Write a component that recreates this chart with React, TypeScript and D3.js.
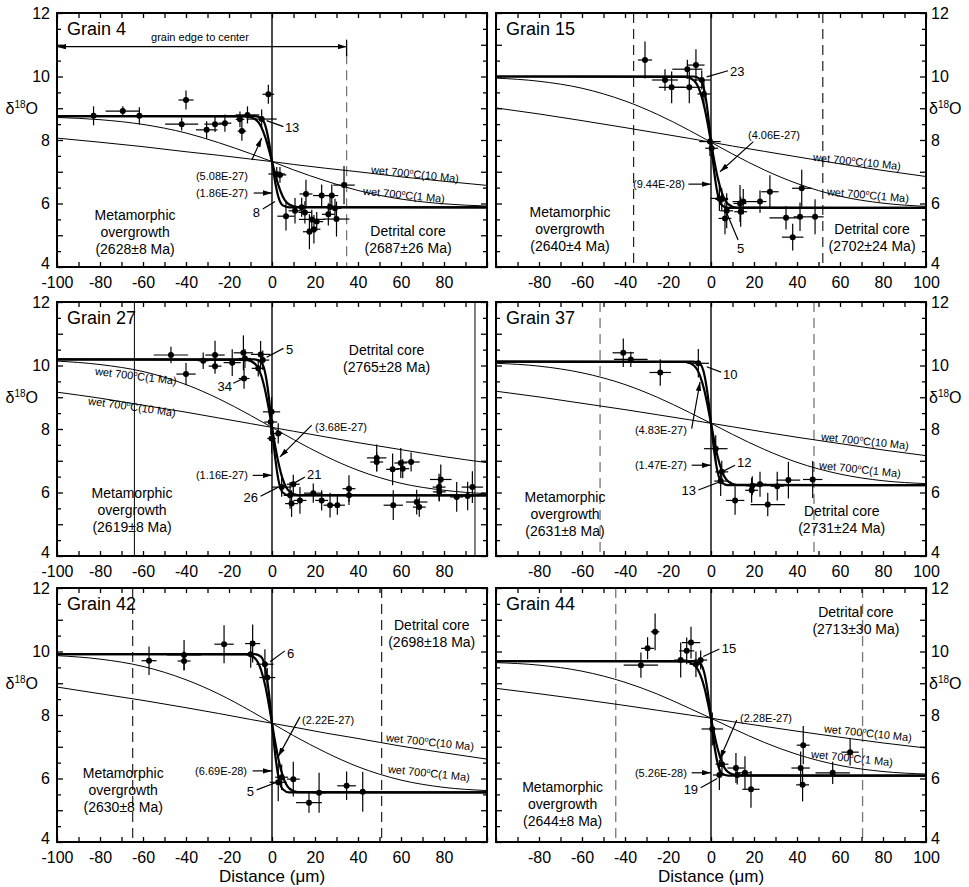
import React, { useEffect, useRef } from 'react';
import * as d3 from 'd3';

const width = 969;
const height = 887;
const font = '"Liberation Sans", Arial, Helvetica, sans-serif';

const cols = [
  { left: 57, right: 487 },
  { left: 496, right: 926 },
];
const rows = [
  { top: 13, bottom: 267 },
  { top: 302, bottom: 556 },
  { top: 588, bottom: 842 },
];

const fitX = [-100, -12, -8, -5, -3, -1.5, 0, 1.5, 3, 5, 8, 12, 100];
const wetX = [-100, -80, -60, -40, -25, -10, 0, 10, 25, 40, 60, 80, 100];

// spot analyses: [distance, d18O, +-distance, +-d18O]
const grain4Points = [
  [-83, 8.76, 1.5, 0.3], [-69.4, 8.91, 8, 0.15], [-61.7, 8.76, 1.5, 0.27], [-42, 8.5, 7.7, 0.2],
  [-40, 9.26, 3.5, 0.3], [-30.4, 8.32, 5, 0.27], [-26.5, 8.5, 5, 0.25], [-21.9, 8.53, 3, 0.27],
  [-14.9, 8.65, 2, 0.25], [-14, 8.28, 2, 0.3], [-11.4, 8.79, 5.5, 0.27], [-4.8, 8.66, 7, 0.3],
  [-1.7, 9.44, 2.7, 0.3], [2.2, 6.93, 3.9, 0.22], [3.7, 6.9, 3, 0.25], [6.5, 5.6, 4, 0.45],
  [10.7, 5.77, 3, 0.4], [13.8, 5.88, 4, 0.3], [15.3, 5.72, 3, 0.35], [15.8, 6.3, 3, 0.45],
  [17.4, 5.11, 3, 0.55], [18.5, 5.5, 6, 0.3], [19.5, 5.19, 3, 0.45], [20.8, 5.43, 3, 0.3],
  [23.1, 6.25, 4, 0.35], [26.2, 5.66, 3, 0.35], [27, 5.89, 3, 0.3], [27.8, 6.25, 3, 0.35],
  [29.3, 5.85, 3, 0.3], [30, 5.51, 6, 0.55], [33.5, 6.58, 5, 0.6],
];
const grain4FitA = [8.75, 8.74, 8.66, 8.41, 8.06, 7.71, 7.32, 6.92, 6.57, 6.22, 5.97, 5.89, 5.88];
const grain4FitB = [8.75, 8.75, 8.75, 8.69, 8.43, 7.97, 7.32, 6.66, 6.2, 5.94, 5.88, 5.88, 5.88];
const grain4Wet1 = [8.71, 8.64, 8.49, 8.22, 7.92, 7.57, 7.32, 7.06, 6.71, 6.41, 6.14, 5.99, 5.92];
const grain4Wet10 = [8.06, 7.93, 7.79, 7.63, 7.52, 7.4, 7.32, 7.23, 7.11, 7.0, 6.84, 6.7, 6.57];

const grain15Points = [
  [-30.7, 10.52, 3.3, 0.58], [-21.4, 9.89, 6, 0.34], [-18.3, 9.66, 6, 0.5], [-11, 10.23, 7, 0.3],
  [-10.1, 9.66, 7, 0.5], [-7, 10.36, 4, 0.5], [-4.3, 9.89, 4, 0.3], [-3.3, 9.45, 3, 0.42],
  [-0.5, 7.95, 5, 0.45], [0.3, 7.74, 3, 0.3], [3.9, 6.16, 4, 0.4], [5, 6.13, 3, 0.35],
  [6.5, 5.53, 3, 0.5], [7.3, 5.77, 3, 0.55], [13.5, 6.0, 3, 0.58], [13.8, 5.74, 3, 0.47],
  [15, 6.06, 5, 0.4], [22.8, 6.06, 3, 0.35], [27.4, 6.37, 4, 0.52], [34.9, 5.55, 7.7, 0.37],
  [38, 4.94, 5, 0.42], [41.4, 5.58, 3, 0.45], [42.2, 6.48, 4.5, 0.58], [48.4, 5.58, 4, 0.55],
];
const grain15FitA = [10.0, 9.99, 9.88, 9.51, 9.01, 8.5, 7.93, 7.36, 6.85, 6.35, 5.98, 5.87, 5.86];
const grain15FitB = [10.0, 10.0, 10.0, 9.91, 9.53, 8.87, 7.93, 6.99, 6.33, 5.95, 5.86, 5.86, 5.86];
const grain15Wet1 = [9.95, 9.85, 9.63, 9.23, 8.81, 8.3, 7.93, 7.56, 7.05, 6.63, 6.23, 6.01, 5.91];
const grain15Wet10 = [9.01, 8.82, 8.61, 8.39, 8.22, 8.05, 7.93, 7.81, 7.64, 7.47, 7.25, 7.04, 6.85];

const grain27Points = [
  [-47, 10.33, 8, 0.26], [-40, 9.73, 4.5, 0.35], [-32, 10.15, 2.5, 0.26], [-26.5, 10.33, 4.5, 0.45],
  [-26.5, 9.98, 3, 0.24], [-18.5, 10.09, 4, 0.42], [-13.3, 10.4, 4.5, 0.55], [-12.6, 10.22, 3, 0.3],
  [-13, 9.59, 2.5, 0.32], [-6.4, 9.91, 3, 0.26], [-5.3, 10.35, 4.5, 0.42], [-4.3, 10.17, 3, 0.3],
  [-0.2, 8.54, 4, 0.47], [-0.6, 8.22, 3, 0.4], [-0.2, 7.7, 2, 0.47], [2.9, 7.86, 2, 0.32],
  [4.5, 6.17, 4.5, 0.3], [8.4, 5.91, 3, 0.42], [9.1, 5.65, 3, 0.42], [9.9, 6.26, 3, 0.3],
  [13, 5.75, 3, 0.42], [19.2, 5.98, 4.3, 0.3], [23.1, 5.75, 3, 0.32], [27, 5.6, 3, 0.39],
  [30.4, 5.6, 3.5, 0.3], [35.8, 6.12, 3, 0.42], [35.8, 5.91, 3, 0.3], [48.7, 7.09, 4.5, 0.42],
  [48.7, 6.96, 3, 0.3], [56.1, 6.73, 3, 0.5], [56.4, 5.6, 4.5, 0.47], [59.9, 6.93, 3, 0.47],
  [60.8, 6.75, 3, 0.3], [64.7, 6.96, 4, 0.3], [67.3, 5.7, 5, 0.39], [68.5, 5.54, 3, 0.3],
  [77.7, 6.17, 3, 0.42], [78.5, 6.41, 5, 0.47], [77.8, 6.02, 3, 0.3], [85.9, 5.86, 3, 0.47],
  [91, 5.89, 3, 0.45], [93.2, 6.17, 5, 0.5],
];
const grain27FitA = [10.19, 10.18, 10.06, 9.68, 9.16, 8.64, 8.05, 7.46, 6.94, 6.42, 6.04, 5.92, 5.91];
const grain27FitB = [10.19, 10.19, 10.19, 10.1, 9.71, 9.03, 8.05, 7.08, 6.39, 6.0, 5.91, 5.91, 5.91];
const grain27Wet1 = [10.14, 10.03, 9.81, 9.4, 8.96, 8.43, 8.05, 7.67, 7.14, 6.7, 6.29, 6.07, 5.96];
const grain27Wet10 = [9.16, 8.97, 8.75, 8.53, 8.35, 8.17, 8.05, 7.93, 7.75, 7.57, 7.35, 7.13, 6.94];

const grain37Points = [
  [-40.8, 10.4, 5, 0.45], [-37.3, 10.19, 7.8, 0.24], [-23.6, 9.78, 5, 0.42], [-5.9, 10.07, 5, 0.45],
  [2.2, 7.38, 5.5, 0.42], [5, 6.65, 3, 0.35], [4.5, 6.36, 3, 0.47], [11.2, 5.75, 4.3, 0.45],
  [18.9, 6.07, 3, 0.39], [19.2, 6.21, 3, 0.3], [22.8, 6.26, 3, 0.39], [26.4, 5.62, 8, 0.37],
  [30.8, 6.2, 3, 0.45], [36, 6.39, 5.5, 0.58], [47.3, 6.41, 4.5, 0.58],
];
const grain37FitA = [10.12, 10.11, 10.0, 9.66, 9.19, 8.71, 8.18, 7.64, 7.16, 6.69, 6.35, 6.24, 6.23];
const grain37FitB = [10.12, 10.12, 10.12, 10.04, 9.68, 9.06, 8.18, 7.29, 6.67, 6.31, 6.23, 6.23, 6.23];
const grain37Wet1 = [10.07, 9.98, 9.77, 9.4, 9.0, 8.52, 8.18, 7.83, 7.35, 6.95, 6.58, 6.37, 6.28];
const grain37Wet10 = [9.19, 9.01, 8.81, 8.61, 8.45, 8.29, 8.18, 8.07, 7.9, 7.74, 7.54, 7.34, 7.16];

const grain42Points = [
  [-57.2, 9.71, 3.5, 0.45], [-40.9, 9.89, 8, 0.47], [-40.9, 9.7, 3, 0.3], [-22.3, 10.23, 4.5, 0.6],
  [-9, 10.25, 3.5, 0.6], [-9.9, 9.91, 3, 0.42], [-3.3, 9.6, 4, 0.47], [-2.2, 9.18, 3.7, 0.3],
  [2.9, 5.88, 4, 0.6], [4.5, 6.04, 3, 0.4], [9.9, 5.98, 3, 0.55], [17.2, 5.24, 6, 0.32],
  [21.9, 5.55, 3, 0.63], [34.7, 5.77, 4.3, 0.45], [42.2, 5.58, 3, 0.63],
];
const grain42FitA = [9.92, 9.91, 9.79, 9.4, 8.88, 8.34, 7.74, 7.14, 6.61, 6.08, 5.69, 5.57, 5.56];
const grain42FitB = [9.92, 9.92, 9.92, 9.83, 9.43, 8.73, 7.74, 6.75, 6.05, 5.66, 5.56, 5.56, 5.56];
const grain42Wet1 = [9.87, 9.76, 9.53, 9.11, 8.67, 8.13, 7.74, 7.35, 6.82, 6.37, 5.95, 5.72, 5.62];
const grain42Wet10 = [8.88, 8.67, 8.46, 8.23, 8.05, 7.86, 7.74, 7.62, 7.43, 7.26, 7.02, 6.81, 6.61];

const grain44Points = [
  [-32.6, 9.57, 8, 0.4], [-29.5, 10.1, 3, 0.35], [-26, 10.62, 2, 0.58], [-14.1, 9.73, 3, 0.55],
  [-11.3, 10.02, 3.5, 0.42], [-9.3, 10.28, 4.3, 0.5], [-7, 9.6, 3, 0.4], [-4.8, 9.73, 3, 0.3],
  [0.6, 7.56, 5, 0.52], [5.1, 6.45, 3, 0.3], [3.9, 6.11, 3, 0.47], [11.6, 6.33, 4, 0.47],
  [12.2, 6.11, 3, 0.3], [15.8, 6.18, 3, 0.52], [18.6, 5.66, 4, 0.58], [41.7, 6.33, 4.3, 0.52],
  [42.9, 7.05, 3, 0.6], [42.6, 5.8, 3, 0.52], [56.6, 6.18, 8, 0.35], [64.7, 6.83, 4, 0.42],
];
const grain44FitA = [9.7, 9.69, 9.59, 9.27, 8.84, 8.39, 7.9, 7.4, 6.96, 6.52, 6.2, 6.1, 6.09];
const grain44FitB = [9.7, 9.7, 9.7, 9.62, 9.29, 8.72, 7.9, 7.07, 6.5, 6.16, 6.09, 6.09, 6.09];
const grain44Wet1 = [9.65, 9.57, 9.38, 9.03, 8.66, 8.21, 7.9, 7.58, 7.13, 6.76, 6.41, 6.22, 6.14];
const grain44Wet10 = [8.84, 8.67, 8.49, 8.3, 8.15, 8.0, 7.9, 7.79, 7.64, 7.49, 7.3, 7.12, 6.96];

const xTicks = d3.range(-100, 100.001, 10);
const yTicks = d3.range(4, 12.001, 0.5);

const dashGray = { color: '#777', dash: '10,6', width: 1.3 };
const dashBlack = { color: '#222', dash: '10,6', width: 1.2 };

// layout of each panel (label positions in data units)
const panels = [
  {
    name: 'Grain 4', col: 0, row: 0,
    points: grain4Points, fitA: grain4FitA, fitB: grain4FitB, wet1: grain4Wet1, wet10: grain4Wet10,
    meta: { lines: ['Metamorphic', 'overgrowth', '(2628\u00b18 Ma)'], at: [-63.7, 5.48] },
    core: { lines: ['Detrital core', '(2687\u00b126 Ma)'], at: [63.3, 4.98] },
    wet10Label: { at: [66.5, 6.93], angle: 6 },
    wet1Label: { at: [61.4, 6.27], angle: 5.5 },
    marks: [{ x: 34.7, top: 10.7, ...dashGray }],
    notes: [
      { text: '13', at: [6, 8.38], anchor: 'start', line: [[-2.5, 8.61], [5.3, 8.42]] },
      { text: '8', at: [-5.6, 5.73], anchor: 'end', line: [[1.4, 6.06], [-4.3, 5.83]] },
      { text: '(5.08E-27)', at: [-11.2, 6.87], anchor: 'end', arrow: [[-9.4, 7.37], [-4.8, 8.06]] },
      { text: '(1.86E-27)', at: [-11.2, 6.33], anchor: 'end', arrow: [[-8.5, 6.33], [0, 6.33]] },
    ],
    edge: { from: -100, to: 34.7, at: 10.94, text: 'grain edge to center', textAt: [-33.5, 11.12] },
  },
  {
    name: 'Grain 15', col: 1, row: 0,
    points: grain15Points, fitA: grain15FitA, fitB: grain15FitB, wet1: grain15Wet1, wet10: grain15Wet10,
    meta: { lines: ['Metamorphic', 'overgrowth', '(2640\u00b14 Ma)'], at: [-65.6, 5.57] },
    core: { lines: ['Detrital core', '(2702\u00b124 Ma)'], at: [74.9, 5.04] },
    wet10Label: { at: [67.9, 7.32], angle: 6 },
    wet1Label: { at: [73, 6.27], angle: 5 },
    marks: [{ x: -36, ...dashBlack }, { x: 52, ...dashBlack }],
    notes: [
      { text: '23', at: [8.8, 10.17], anchor: 'start', line: [[-2, 9.99], [7.9, 10.18]] },
      { text: '(4.06E-27)', at: [17.2, 8.16], anchor: 'start', arrow: [[19.7, 7.95], [4.2, 7.0]] },
      { text: '(9.44E-28)', at: [-12.1, 6.61], anchor: 'end', arrow: [[-10.5, 6.61], [0, 6.61]] },
      { text: '5', at: [13.8, 4.6], anchor: 'middle', line: [[7.3, 5.7], [12.6, 4.85]] },
    ],
  },
  {
    name: 'Grain 27', col: 0, row: 1,
    points: grain27Points, fitA: grain27FitA, fitB: grain27FitB, wet1: grain27Wet1, wet10: grain27Wet10,
    meta: { lines: ['Metamorphic', 'overgrowth', '(2619\u00b18 Ma)'], at: [-65.1, 5.82] },
    core: { lines: ['Detrital core', '(2765\u00b128 Ma)'], at: [53.3, 10.33] },
    wet10Label: { at: [-65.1, 8.7], angle: 8 },
    wet1Label: { at: [-63.3, 9.67], angle: 7 },
    marks: [{ x: -64, color: '#000', width: 1 }, { x: 94.4, color: '#000', width: 1 }],
    notes: [
      { text: '5', at: [6.5, 10.49], anchor: 'start', line: [[-2.5, 10.26], [5.3, 10.54]] },
      { text: '34', at: [-18.6, 9.33], anchor: 'end', line: [[-13.3, 9.59], [-18, 9.44]] },
      { text: '(3.68E-27)', at: [20, 8.07], anchor: 'start', arrow: [[18.5, 8.12], [3.7, 7.12]] },
      { text: '(1.16E-27)', at: [-11.2, 6.54], anchor: 'end', arrow: [[-9, 6.54], [0, 6.54]] },
      { text: '21', at: [16.3, 6.57], anchor: 'start', line: [[9.9, 6.28], [15.3, 6.49]] },
      { text: '26', at: [-6.5, 5.83], anchor: 'end', line: [[2.9, 6.17], [-5.3, 5.88]] },
    ],
  },
  {
    name: 'Grain 37', col: 1, row: 1,
    points: grain37Points, fitA: grain37FitA, fitB: grain37FitB, wet1: grain37Wet1, wet10: grain37Wet10,
    meta: { lines: ['Metamorphic', 'overgrowth', '(2631\u00b18 Ma)'], at: [-67.9, 5.7] },
    core: { lines: ['Detrital core', '(2731\u00b124 Ma)'], at: [60.8, 5.26] },
    wet10Label: { at: [71.6, 7.62], angle: 6 },
    wet1Label: { at: [69.3, 6.73], angle: 6 },
    marks: [{ x: -51.6, ...dashGray }, { x: 47.9, ...dashGray }],
    notes: [
      { text: '10', at: [5.6, 9.73], anchor: 'start', line: [[-2, 9.96], [4.7, 9.79]] },
      { text: '(4.83E-27)', at: [-11.2, 7.96], anchor: 'end', arrow: [[-9, 8.01], [-5.1, 9.48]] },
      { text: '(1.47E-27)', at: [-11.2, 6.86], anchor: 'end', arrow: [[-9, 6.86], [0, 6.86]] },
      { text: '12', at: [12.1, 6.94], anchor: 'start', line: [[5, 6.65], [11.2, 6.86]] },
      { text: '13', at: [-7, 6.08], anchor: 'end', line: [[4.2, 6.34], [-5.9, 6.08]] },
    ],
  },
  {
    name: 'Grain 42', col: 0, row: 2,
    points: grain42Points, fitA: grain42FitA, fitB: grain42FitB, wet1: grain42Wet1, wet10: grain42Wet10,
    meta: { lines: ['Metamorphic', 'overgrowth', '(2630\u00b18 Ma)'], at: [-69.2, 6.01] },
    core: { lines: ['Detrital core', '(2698\u00b118 Ma)'], at: [74.3, 10.68] },
    wet10Label: { at: [73.5, 7.15], angle: 6 },
    wet1Label: { at: [73, 6.17], angle: 6 },
    marks: [{ x: -64.8, ...dashBlack }, { x: 51, ...dashBlack }],
    notes: [
      { text: '6', at: [7, 9.95], anchor: 'start', line: [[-0.9, 9.68], [6, 10.02]] },
      { text: '(2.22E-27)', at: [14, 7.84], anchor: 'start', arrow: [[13, 7.94], [2.9, 6.69]] },
      { text: '(6.69E-28)', at: [-11.6, 6.24], anchor: 'end', arrow: [[-9, 6.24], [0, 6.24]] },
      { text: '5', at: [-8.4, 5.58], anchor: 'end', line: [[2.2, 5.88], [-7.1, 5.64]] },
    ],
  },
  {
    name: 'Grain 44', col: 1, row: 2,
    points: grain44Points, fitA: grain44FitA, fitB: grain44FitB, wet1: grain44Wet1, wet10: grain44Wet10,
    meta: { lines: ['Metamorphic', 'overgrowth', '(2644\u00b18 Ma)'], at: [-69, 5.58] },
    core: { lines: ['Detrital core', '(2713\u00b130 Ma)'], at: [67.4, 11.1] },
    wet10Label: { at: [73, 7.43], angle: 6 },
    wet1Label: { at: [65.6, 6.64], angle: 6 },
    marks: [{ x: -44.3, ...dashGray }, { x: 70.5, ...dashGray }],
    notes: [
      { text: '15', at: [5, 10.1], anchor: 'start', line: [[-3.6, 9.84], [3.9, 10.08]] },
      { text: '(2.28E-27)', at: [13.5, 7.89], anchor: 'start', arrow: [[12, 7.84], [4.2, 6.62]] },
      { text: '(5.26E-28)', at: [-11.2, 6.18], anchor: 'end', arrow: [[-9, 6.18], [0, 6.18]] },
      { text: '19', at: [-6, 5.67], anchor: 'end', line: [[2.9, 6.0], [-4.8, 5.71]] },
    ],
  },
];

function wetText(sel: any, label: string) {
  sel.append('tspan').text('wet 700');
  sel.append('tspan').attr('font-size', 7).attr('dy', -4).text('o');
  sel.append('tspan').attr('dy', 4).text(`C(${label})`);
}

function drawPanel(svg: any, p: any, idx: number) {
  const c = cols[p.col];
  const r = rows[p.row];
  const x = d3.scaleLinear().domain([-100, 100]).range([c.left, c.right]);
  const y = d3.scaleLinear().domain([4, 12]).range([r.bottom, r.top]);
  const g = svg.append('g').attr('font-family', font).attr('fill', '#000');

  const clipId = `clip-${idx}`;
  svg.select('defs').append('clipPath').attr('id', clipId)
    .append('rect')
    .attr('x', c.left).attr('y', r.top)
    .attr('width', c.right - c.left).attr('height', r.bottom - r.top);
  const plot = g.append('g').attr('clip-path', `url(#${clipId})`);

  // boundary lines
  p.marks.forEach((m: any) => {
    plot.append('line')
      .attr('x1', x(m.x)).attr('x2', x(m.x))
      .attr('y1', y(m.top ?? 12)).attr('y2', y(4))
      .attr('stroke', m.color).attr('stroke-width', m.width)
      .attr('stroke-dasharray', m.dash ?? null);
  });
  plot.append('line')
    .attr('x1', x(0)).attr('x2', x(0)).attr('y1', y(12)).attr('y2', y(4))
    .attr('stroke', '#000').attr('stroke-width', 1.4);

  if (p.edge) {
    const e = p.edge;
    g.append('line')
      .attr('x1', x(e.from)).attr('x2', x(e.to)).attr('y1', y(e.at)).attr('y2', y(e.at))
      .attr('stroke', '#000').attr('stroke-width', 1.1)
      .attr('marker-start', 'url(#arrowhead)').attr('marker-end', 'url(#arrowhead)');
    g.append('line')
      .attr('x1', x(e.to)).attr('x2', x(e.to)).attr('y1', y(e.at + 0.22)).attr('y2', y(e.at - 0.3))
      .attr('stroke', '#000').attr('stroke-width', 1.3);
    g.append('text')
      .attr('x', x(e.textAt[0])).attr('y', y(e.textAt[1]))
      .attr('text-anchor', 'middle').attr('font-size', 11).text(e.text);
  }

  const profile = (xs: number[]) => d3.line<number>()
    .x((_, i) => x(xs[i]))
    .y((d) => y(d))
    .curve(d3.curveMonotoneX);

  [p.wet10, p.wet1].forEach((vals: number[]) => {
    plot.append('path').attr('d', profile(wetX)(vals))
      .attr('fill', 'none').attr('stroke', '#000').attr('stroke-width', 1);
  });
  [p.fitA, p.fitB].forEach((vals: number[]) => {
    plot.append('path').attr('d', profile(fitX)(vals))
      .attr('fill', 'none').attr('stroke', '#000').attr('stroke-width', 2.2);
  });

  // spot data with error bars
  const pts = plot.append('g').attr('stroke', '#000').attr('stroke-width', 1.2);
  p.points.forEach(([dx, v, ex, ey]: number[]) => {
    pts.append('line').attr('x1', x(dx - ex)).attr('x2', x(dx + ex)).attr('y1', y(v)).attr('y2', y(v));
    pts.append('line').attr('x1', x(dx)).attr('x2', x(dx)).attr('y1', y(v - ey)).attr('y2', y(v + ey));
    pts.append('circle').attr('cx', x(dx)).attr('cy', y(v)).attr('r', 3).attr('fill', '#000').attr('stroke', 'none');
  });

  // frame
  g.append('rect')
    .attr('x', c.left).attr('y', r.top)
    .attr('width', c.right - c.left).attr('height', r.bottom - r.top)
    .attr('fill', 'none').attr('stroke', '#000').attr('stroke-width', 2);

  // axes, ticks pointing inward on all four sides
  const isLeft = p.col === 0;
  const skipX = isLeft ? 100 : -100;
  const fmtX = (d: any) => (d % 20 === 0 && d !== skipX ? String(d) : '');
  const fmtY = (d: any) => (d % 2 === 0 ? String(d) : '');
  const none = () => '';

  const styleAxis = (a: any) => {
    a.select('.domain').remove();
    a.attr('font-family', font).attr('font-size', 16);
    a.selectAll('.tick line').attr('stroke-width', 1.3);
    a.selectAll('.tick text').attr('fill', '#000');
  };

  g.append('g').attr('transform', `translate(0,${r.bottom})`)
    .call(d3.axisBottom(x).tickValues(xTicks).tickSize(-5).tickPadding(10).tickFormat(fmtX))
    .call(styleAxis);
  g.append('g').attr('transform', `translate(0,${r.top})`)
    .call(d3.axisTop(x).tickValues(xTicks).tickSize(-5).tickFormat(none))
    .call(styleAxis);
  const leftAx = g.append('g').attr('transform', `translate(${c.left},0)`)
    .call(d3.axisLeft(y).tickValues(yTicks).tickSize(-6).tickPadding(7).tickFormat(isLeft ? fmtY : none))
    .call(styleAxis);
  leftAx.selectAll('.tick line').attr('x2', (d: any) => (d % 1 === 0 ? 6 : 4));
  const rightAx = g.append('g').attr('transform', `translate(${c.right},0)`)
    .call(d3.axisRight(y).tickValues(yTicks).tickSize(-6).tickPadding(5).tickFormat(isLeft ? none : fmtY))
    .call(styleAxis);
  rightAx.selectAll('.tick line').attr('x2', (d: any) => (d % 1 === 0 ? -6 : -4));
  // lift the bottom "4" a little so it clears the distance labels
  [leftAx, rightAx].forEach((a: any) => {
    a.selectAll('.tick text').filter((d: any) => d === 4).attr('dy', '0.1em');
  });

  // d18O axis label
  const yl = g.append('text')
    .attr('x', isLeft ? c.left - 19 : c.right + 3)
    .attr('y', y(9))
    .attr('dy', '0.35em')
    .attr('text-anchor', isLeft ? 'end' : 'start')
    .attr('font-size', 16);
  yl.append('tspan').text('\u03b4');
  yl.append('tspan').attr('font-size', 10).attr('dy', -6).text('18');
  yl.append('tspan').attr('dy', 6).text('O');

  if (p.row === 2) {
    g.append('text')
      .attr('x', x(0)).attr('y', 882)
      .attr('text-anchor', 'middle').attr('font-size', 17)
      .text('Distance (\u03bcm)');
  }

  // titles and region labels
  g.append('text')
    .attr('x', c.left + 10).attr('y', r.top + 22)
    .attr('font-size', 18).text(p.name);

  [p.meta, p.core].forEach((blk: any) => {
    const t = g.append('text')
      .attr('x', x(blk.at[0])).attr('y', y(blk.at[1]))
      .attr('text-anchor', 'middle').attr('font-size', 14);
    blk.lines.forEach((ln: string, i: number) => {
      t.append('tspan').attr('x', x(blk.at[0])).attr('dy', i === 0 ? 0 : 17).text(ln);
    });
  });

  [[p.wet10Label, '10 Ma'], [p.wet1Label, '1 Ma']].forEach(([lab, txt]: any) => {
    const t = g.append('text')
      .attr('transform', `translate(${x(lab.at[0])},${y(lab.at[1])}) rotate(${lab.angle})`)
      .attr('text-anchor', 'middle').attr('dy', '0.35em').attr('font-size', 11);
    wetText(t, txt);
  });

  // spot numbers and diffusivity annotations
  p.notes.forEach((n: any) => {
    const seg = n.line || n.arrow;
    const ln = g.append('line')
      .attr('x1', x(seg[0][0])).attr('y1', y(seg[0][1]))
      .attr('x2', x(seg[1][0])).attr('y2', y(seg[1][1]))
      .attr('stroke', '#000').attr('stroke-width', 1.2);
    if (n.arrow) ln.attr('marker-end', 'url(#arrowhead)');
    g.append('text')
      .attr('x', x(n.at[0])).attr('y', y(n.at[1]))
      .attr('dy', '0.35em')
      .attr('text-anchor', n.anchor)
      .attr('font-size', n.arrow ? 11 : 13)
      .text(n.text);
  });
}

export default function App() {
  const ref = useRef<SVGSVGElement>(null);

  useEffect(() => {
    const svg = d3.select(ref.current);
    svg.selectAll('*').remove();
    const defs = svg.append('defs');
    defs.append('marker')
      .attr('id', 'arrowhead')
      .attr('viewBox', '0 0 10 6')
      .attr('refX', 10).attr('refY', 3)
      .attr('markerWidth', 9).attr('markerHeight', 5.4)
      .attr('markerUnits', 'userSpaceOnUse')
      .attr('orient', 'auto-start-reverse')
      .append('path').attr('d', 'M0,0 L10,3 L0,6 z').attr('fill', '#000');

    panels.forEach((p, i) => drawPanel(svg, p, i));
  }, []);

  return (
    <svg
      ref={ref}
      width={width}
      height={height}
      style={{ position: 'absolute', left: 0, top: 0, background: '#fff' }}
    />
  );
}
